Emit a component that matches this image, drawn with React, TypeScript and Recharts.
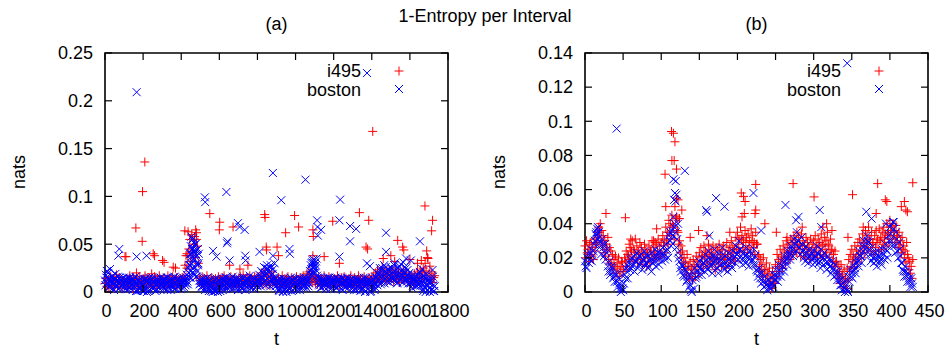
import React from 'react';
import { ScatterChart, Scatter, XAxis, YAxis, ReferenceArea } from 'recharts';

// ---------- data (band values in 10^-3 nats) ----------
const MILLI = 0.001;
const A_STEP = 5; // t spacing of band samples in panel (a)
const B_STEP = 2; // t spacing of band samples in panel (b)

const aTicksX = [0, 200, 400, 600, 800, 1000, 1200, 1400, 1600, 1800];
const aTicksY = [0, 0.05, 0.1, 0.15, 0.2, 0.25];
const bTicksX = [0, 50, 100, 150, 200, 250, 300, 350, 400, 450];
const bTicksY = [0, 0.02, 0.04, 0.06, 0.08, 0.1, 0.12, 0.14];

const seriesNames = ['i495', 'boston'];
const panelTitles = ['(a)', '(b)'];
const mainTitle = '1-Entropy per Interval';

// panel (a) — i495, t = 0, 5, ..., 1730
const aI495Band = [
  9, 14, 6, 12, 4, 10, 16, 7, 11, 13, 5, 12, 18, 6, 10, 15, 8, 13, 4, 11,
  10, 37, 7, 14, 5, 12, 17, 8, 11, 4, 15, 9, 13, 20, 6, 10, 16, 7, 12, 9,
  14, 8, 17, 5, 11, 15, 9, 13, 6, 19, 10, 7, 16, 12, 4, 14, 9, 17, 8, 11,
  13, 7, 15, 10, 5, 12, 17, 9, 14, 6, 11, 16, 8, 13, 10, 15, 7, 12, 10, 14,
  9, 15, 11, 17, 28, 13, 25, 38, 45, 55, 32, 60, 42, 50, 58, 36, 62, 48, 30, 14,
  12, 8, 16, 9, 14, 6, 11, 17, 8, 13, 10, 7, 15, 9, 12, 5, 14, 8, 11, 16,
  9, 13, 6, 15, 10, 17, 8, 12, 14, 7, 11, 9, 16, 8, 13, 6, 15, 10, 8, 12,
  14, 9, 16, 7, 12, 18, 8, 13, 10, 15, 8, 11, 17, 9, 14, 6, 12, 16, 9, 13,
  10, 15, 8, 14, 20, 9, 17, 12, 23, 8, 16, 11, 19, 7, 14, 21, 10, 15, 13, 9,
  12, 8, 15, 10, 6, 13, 17, 9, 11, 7, 14, 10, 16, 8, 12, 5, 15, 10, 13, 9,
  11, 16, 8, 13, 9, 15, 7, 12, 17, 9, 14, 10, 19, 13, 21, 15, 11, 18, 10, 14,
  16, 10, 13, 8, 15, 11, 9, 14, 7, 12, 17, 10, 13, 6, 11, 16, 9, 14, 10, 12,
  10, 14, 8, 13, 17, 10, 7, 12, 15, 9, 11, 16, 8, 13, 10, 6, 14, 11, 17, 9,
  12, 8, 15, 10, 7, 13, 17, 9, 11, 6, 14, 9, 16, 12, 8, 13, 10, 15, 9, 11,
  14, 10, 17, 12, 20, 10, 23, 15, 13, 19, 11, 25, 16, 21, 14, 18, 12, 23, 17, 13,
  20, 15, 22, 11, 18, 24, 13, 17, 21, 10, 16, 19, 14, 23, 12, 17, 20, 15, 11, 18,
  14, 10, 17, 13, 8, 19, 12, 15, 21, 11, 16, 23, 14, 20, 25, 17, 30, 22, 13, 35,
  19, 27, 13, 21, 10, 15, 17,
];

// panel (a) — boston, t = 0, 5, ..., 1730
const aBostonBand = [
  12, 18, 22, 9, 14, 6, 11, 16, 4, 13, 8, 19, 7, 12, 3, 15, 10, 6, 14, 9,
  5, 12, 8, 15, 3, 10, 14, 7, 11, 2, 13, 6, 16, 9, 1, 12, 5, 10, 2, 8,
  11, 1, 14, 6, 0, 13, 9, 2, 12, 7, 15, 4, 10, 1, 8, 13, 5, 11, 3, 9,
  12, 6, 14, 3, 10, 8, 15, 5, 11, 2, 13, 7, 9, 16, 4, 12, 6, 10, 14, 3,
  11, 7, 15, 5, 13, 9, 18, 8, 20, 35, 48, 30, 55, 42, 26, 50, 38, 22, 30, 12,
  9, 4, 13, 7, 11, 2, 14, 6, 10, 1, 12, 5, 8, 0, 11, 3, 9, 14, 2, 7,
  12, 1, 10, 5, 14, 8, 11, 3, 15, 7, 10, 13, 6, 9, 16, 4, 11, 8, 13, 5,
  10, 14, 6, 12, 3, 9, 15, 7, 11, 5, 13, 8, 17, 4, 10, 12, 6, 14, 9, 11,
  7, 13, 18, 10, 22, 15, 9, 26, 12, 20, 8, 24, 16, 11, 28, 14, 19, 9, 13, 6,
  12, 4, 10, 1, 14, 6, 9, 0, 11, 3, 13, 7, 2, 10, 5, 15, 1, 8, 12, 4,
  9, 2, 13, 6, 11, 14, 5, 10, 8, 15, 7, 12, 4, 11, 9, 22, 28, 18, 33, 25,
  30, 20, 35, 15, 11, 7, 13, 5, 10, 14, 8, 12, 3, 9, 15, 6, 11, 13, 4, 10,
  12, 7, 15, 5, 10, 13, 8, 11, 3, 14, 9, 6, 12, 10, 15, 4, 11, 8, 13, 7,
  10, 5, 14, 8, 2, 12, 6, 11, 1, 9, 13, 4, 10, 0, 15, 7, 3, 12, 8, 1,
  11, 4, 13, 2, 9, 15, 7, 18, 12, 22, 10, 25, 16, 28, 14, 20, 11, 24, 18, 13,
  26, 15, 21, 12, 30, 17, 23, 10, 19, 27, 14, 22, 16, 31, 12, 20, 25, 11, 18, 15,
  13, 9, 16, 7, 12, 14, 6, 11, 18, 8, 13, 20, 10, 24, 1, 15, 5, 19, 2, 12,
  14, 0, 9, 3, 16, 1, 6,
];

// panel (a) — boston, t = 2.5, 7.5, ..., 1727.5
const aBostonBandMid = [
  7, 15, 10, 20, 5, 13, 9, 17, 11, 2, 14, 6, 12, 16, 8, 4, 13, 11, 7, 15,
  9, 3, 13, 6, 11, 15, 4, 12, 8, 14, 6, 10, 1, 13, 7, 11, 3, 14, 6, 1,
  8, 13, 3, 10, 12, 1, 15, 6, 9, 13, 3, 11, 8, 14, 2, 10, 12, 6, 15, 7,
  10, 4, 13, 8, 15, 2, 11, 7, 14, 9, 5, 12, 15, 3, 10, 8, 13, 6, 11, 9,
  14, 4, 10, 12, 7, 15, 11, 25, 15, 28, 40, 20, 45, 35, 50, 16, 44, 28, 40, 8,
  12, 6, 10, 14, 4, 11, 8, 15, 3, 13, 7, 1, 10, 4, 13, 1, 6, 11, 0, 12,
  5, 9, 13, 2, 11, 7, 15, 9, 4, 12, 8, 14, 3, 11, 7, 13, 5, 10, 14, 2,
  13, 7, 11, 4, 15, 8, 12, 2, 10, 14, 7, 11, 5, 13, 8, 15, 3, 10, 12, 6,
  12, 9, 15, 6, 13, 20, 11, 17, 7, 25, 14, 10, 21, 6, 18, 12, 24, 15, 8, 11,
  7, 13, 2, 10, 5, 12, 1, 14, 8, 11, 0, 9, 13, 3, 11, 7, 12, 2, 9, 14,
  5, 11, 8, 14, 2, 10, 13, 7, 12, 4, 15, 9, 11, 6, 14, 18, 24, 31, 20, 27,
  24, 32, 17, 12, 8, 15, 4, 11, 13, 6, 10, 14, 7, 12, 9, 15, 3, 10, 7, 13,
  8, 13, 4, 11, 14, 6, 12, 9, 15, 2, 10, 13, 5, 11, 8, 14, 7, 12, 3, 10,
  13, 2, 9, 11, 6, 14, 8, 4, 12, 10, 3, 15, 7, 1, 11, 9, 13, 5, 0, 10,
  7, 13, 9, 16, 4, 20, 11, 14, 25, 8, 18, 13, 21, 9, 26, 15, 12, 22, 10, 17,
  12, 24, 17, 28, 14, 20, 9, 25, 16, 12, 29, 18, 10, 21, 26, 15, 13, 23, 9, 20,
  10, 15, 4, 13, 9, 17, 12, 6, 15, 10, 21, 7, 16, 3, 12, 9, 0, 14, 7, 10,
  4, 11, 2, 13, 7, 1,
];

// panel (a) — isolated points, [t, nats]
const aI495Extra = [
  [162, 0.067], [195, 0.053], [197, 0.105], [209, 0.136], [110, 0.037], [253, 0.04],
  [260, 0.038], [302, 0.033], [310, 0.031], [358, 0.026], [370, 0.025], [419, 0.064],
  [436, 0.063], [425, 0.038], [430, 0.04], [476, 0.065], [470, 0.058], [480, 0.055],
  [550, 0.082], [602, 0.073], [600, 0.065], [654, 0.028], [672, 0.068], [708, 0.024],
  [750, 0.028], [838, 0.081], [840, 0.078], [846, 0.047], [848, 0.044], [903, 0.047],
  [910, 0.038], [948, 0.062], [995, 0.08], [1016, 0.068], [1091, 0.065], [1093, 0.058],
  [1091, 0.038], [1150, 0.037], [1195, 0.074], [1230, 0.03], [1335, 0.083], [1384, 0.075],
  [1405, 0.168], [1370, 0.047], [1378, 0.045], [1536, 0.054], [1562, 0.047], [1568, 0.044],
  [1679, 0.09], [1719, 0.075], [1714, 0.064], [1688, 0.043], [1692, 0.036], [1460, 0.035],
  [1500, 0.038], [1520, 0.032], [1600, 0.034], [1640, 0.03], [1660, 0.033],
];

const aBostonExtra = [
  [166, 0.209], [881, 0.1245], [1052, 0.1175], [925, 0.096], [637, 0.1046], [524, 0.099],
  [526, 0.094], [1234, 0.0966], [1375, 0.229], [1113, 0.075], [1115, 0.068], [1134, 0.065],
  [1117, 0.059], [1230, 0.075], [1286, 0.069], [1318, 0.066], [1286, 0.053], [1475, 0.062],
  [1653, 0.053], [643, 0.053], [640, 0.051], [698, 0.072], [706, 0.068], [733, 0.065],
  [567, 0.043], [585, 0.037], [75, 0.045], [70, 0.038], [26, 0.024], [166, 0.037],
  [218, 0.038], [736, 0.038], [738, 0.033], [811, 0.042], [968, 0.045], [970, 0.04],
  [881, 0.038], [1230, 0.037], [1375, 0.03], [1390, 0.027], [1475, 0.042], [462, 0.056],
  [654, 0.033], [1719, 0.023], [1580, 0.035], [1605, 0.033],
  [443, 0.028], [447, 0.04], [452, 0.022], [457, 0.045], [462, 0.034], [467, 0.052],
  [472, 0.018], [477, 0.04], [482, 0.03], [487, 0.045], [450, 0.015], [470, 0.038],
  [458, 0.025], [465, 0.02], [480, 0.016], [454, 0.058],
  [1085, 0.03], [1095, 0.034], [1105, 0.028], [1090, 0.025],
  [850, 0.028], [870, 0.025], [890, 0.03],
];

// panel (b) — i495, t = 0, 2, ..., 430
const bI495Band = [
  27, 30, 25, 28, 29, 26, 31, 28, 35, 38, 40, 36, 33, 30, 28, 32, 26, 24, 22, 19, 21, 17, 20, 15, 18,
  12, 20, 24, 22, 28, 26, 30, 25, 31, 27, 24, 29, 26, 23, 28, 25, 22, 27, 24, 30, 26, 29, 28, 31, 27,
  29, 33, 30, 38, 35, 42, 40, 45, 38, 50, 44, 35, 30, 27, 24, 20, 17, 22, 15, 18, 14, 19, 16, 21, 18,
  23, 26, 21, 27, 24, 22, 28, 25, 23, 27, 20, 26, 24, 28, 22, 25, 27, 21, 29, 24, 26, 30, 27, 25, 32,
  35, 31, 38, 33, 30, 36, 32, 34, 30, 37, 33, 29, 35, 28, 22, 19, 16, 20, 13, 17, 11, 14, 8, 12, 6,
  16, 22, 19, 25, 21, 27, 24, 30, 28, 26, 31, 29, 33, 30, 35, 32, 28, 34, 30, 27, 32, 29, 26, 31, 28,
  30, 33, 27, 31, 29, 34, 28, 32, 30, 35, 27, 31, 25, 22, 24, 18, 15, 12, 16, 10, 13, 8, 14, 19, 22,
  25, 21, 27, 24, 29, 31, 27, 34, 30, 36, 33, 38, 31, 35, 29, 33, 36, 31, 37, 32, 35, 38, 34, 40, 36,
  42, 38, 40, 36, 39, 33, 35, 30, 32, 27, 24, 29, 20, 18, 15, 19,
];

// panel (b) — i495, t = 1, 3, ..., 429
const bI495BandOdd = [
  20, 23, 18, 22, 21, 19, 24, 29, 32, 35, 30, 27, 23, 21, 25, 19, 17, 16, 13, 15, 11, 14, 9, 12, 17,
  13, 18, 15, 21, 19, 24, 18, 23, 20, 17, 22, 19, 16, 21, 18, 15, 20, 17, 23, 19, 22, 21, 24, 20, 22,
  22, 27, 23, 31, 28, 35, 33, 39, 31, 43, 36, 28, 23, 20, 17, 13, 10, 15, 8, 11, 7, 13, 9, 15, 11,
  16, 20, 14, 21, 17, 15, 21, 18, 16, 20, 13, 19, 17, 22, 15, 19, 20, 14, 22, 17, 19, 23, 20, 18, 25,
  28, 24, 31, 26, 23, 29, 25, 27, 23, 30, 26, 22, 28, 21, 15, 12, 9, 13, 6, 10, 4, 8, 2, 6, 5,
  9, 15, 12, 18, 14, 20, 17, 23, 21, 19, 24, 22, 26, 23, 28, 25, 21, 27, 23, 20, 25, 22, 19, 24, 21,
  23, 26, 20, 24, 22, 27, 21, 25, 23, 28, 20, 24, 18, 15, 17, 11, 8, 5, 9, 3, 6, 2, 7, 12, 15,
  18, 14, 20, 17, 22, 24, 20, 27, 23, 29, 26, 31, 24, 28, 22, 26, 29, 24, 30, 25, 28, 31, 27, 33, 29,
  35, 31, 33, 29, 32, 26, 28, 23, 25, 20, 17, 22, 13, 11, 8,
];

// panel (b) — boston, t = 0, 2, ..., 430
const bBostonBand = [
  18, 14, 22, 19, 25, 21, 28, 34, 37, 35, 29, 31, 26, 28, 23, 15, 18, 12, 14, 9, 11, 6, 8, 2, 4,
  1, 10, 14, 8, 17, 19, 15, 21, 18, 23, 20, 16, 22, 19, 24, 17, 21, 15, 20, 23, 18, 25, 21, 19, 24,
  22, 26, 21, 28, 25, 33, 30, 36, 44, 40, 26, 23, 18, 12, 15, 9, 13, 7, 10, 4, 0, 11, 14, 9, 16,
  18, 13, 20, 17, 22, 15, 24, 19, 16, 21, 25, 18, 14, 22, 19, 26, 17, 21, 15, 23, 20, 18, 24, 21, 27,
  22, 30, 25, 19, 23, 21, 26, 20, 24, 22, 19, 25, 16, 12, 14, 8, 11, 6, 9, 4, 7, 3, 8, 5, 10,
  13, 9, 16, 12, 18, 15, 21, 19, 24, 22, 27, 25, 31, 28, 35, 30, 26, 32, 24, 22, 27, 20, 25, 23, 19,
  24, 21, 27, 22, 18, 25, 20, 23, 17, 21, 19, 15, 18, 13, 16, 10, 12, 7, 4, 8, 2, 5, 1, 9, 13,
  11, 16, 14, 20, 18, 24, 21, 27, 30, 25, 33, 29, 22, 26, 20, 23, 18, 24, 21, 19, 25, 22, 28, 24, 33,
  38, 30, 41, 27, 35, 24, 29, 21, 17, 12, 15, 9, 11, 6, 8, 3,
];

// panel (b) — boston, t = 1, 3, ..., 429
const bBostonBandOdd = [
  15, 20, 17, 23, 18, 24, 30, 33, 31, 26, 22, 28, 21, 19, 25, 12, 10, 15, 8, 6, 10, 3, 5, 0, 2,
  5, 8, 12, 15, 13, 20, 16, 12, 18, 14, 21, 17, 13, 19, 16, 22, 14, 18, 12, 17, 20, 15, 23, 16, 20,
  18, 23, 19, 24, 20, 30, 27, 33, 38, 35, 31, 20, 14, 16, 10, 13, 6, 9, 3, 1, 7, 2, 8, 12, 10,
  14, 10, 17, 12, 19, 13, 20, 15, 11, 18, 21, 14, 11, 18, 16, 22, 13, 17, 12, 19, 16, 14, 20, 17, 22,
  19, 25, 21, 16, 19, 17, 22, 15, 20, 18, 16, 21, 13, 9, 11, 5, 8, 3, 6, 1, 4, 2, 5, 3, 7,
  10, 6, 13, 9, 15, 12, 18, 16, 21, 19, 24, 21, 28, 24, 30, 26, 22, 28, 20, 18, 23, 17, 21, 19, 16,
  20, 18, 23, 17, 14, 21, 16, 19, 13, 17, 15, 11, 14, 9, 12, 7, 9, 4, 1, 5, 0, 2, 0, 6, 9,
  8, 13, 11, 17, 15, 21, 17, 24, 27, 22, 30, 25, 18, 23, 17, 20, 15, 21, 18, 16, 22, 19, 25, 20, 30,
  34, 27, 37, 23, 31, 20, 25, 17, 13, 9, 12, 6, 8, 3, 5,
];

const bI495Extra = [
  [27.5, 0.046], [53, 0.0435], [94, 0.037], [105, 0.069], [106, 0.05], [113.5, 0.094],
  [116, 0.093], [118, 0.088], [114, 0.077], [117, 0.077], [120, 0.072], [120, 0.055],
  [122, 0.054], [127, 0.048], [124, 0.043], [122, 0.043], [138, 0.032], [149, 0.036],
  [205, 0.058], [208, 0.056], [210, 0.053], [209, 0.046], [206, 0.044], [224, 0.063],
  [224, 0.048], [223, 0.046], [236, 0.04], [247, 0.005], [251, 0.035], [273, 0.0635],
  [300.5, 0.0557], [317, 0.04], [345, 0.032], [351, 0.057], [382, 0.046], [384, 0.0635],
  [394, 0.054], [396, 0.053], [415, 0.05], [419, 0.053], [421, 0.048], [423, 0.047],
  [430, 0.064], [60, 0.031], [90, 0.03], [160, 0.033], [190, 0.035], [265, 0.032],
  [285, 0.038], [312, 0.038], [324, 0.036], [365, 0.038],
];

const bBostonExtra = [
  [41.5, 0.0957], [116, 0.066], [118, 0.058], [117, 0.054], [119, 0.065], [120, 0.057],
  [119, 0.053], [131, 0.071], [122, 0.04], [159, 0.048], [160, 0.047], [172, 0.055],
  [183, 0.05], [163, 0.033], [221, 0.058], [231, 0.036], [263, 0.051], [277, 0.042],
  [280, 0.044], [308, 0.048], [310, 0.038], [344, 0.134], [369, 0.047], [376, 0.043],
  [395, 0.04], [405, 0.041], [15, 0.035], [17, 0.038], [112, 0.035],
];

// ---------- helpers ----------
type Pt = { t: number; v: number };
const band = (vals: number[], start: number, step: number): Pt[] =>
  vals.map((m, i) => ({ t: start + i * step, v: m * MILLI }));
const extra = (pairs: number[][]): Pt[] => pairs.map(([t, v]) => ({ t, v }));

const RED = '#ff0000';
const BLUE = '#0000ff';
const FONT = '"Liberation Sans", Arial, Helvetica, sans-serif';
const FS = 18;

const PLOT_W = 343;
const PLOT_H = 239;
const TICK_LEN = 7;

const PlusShape = (props: any) => {
  const { cx, cy } = props;
  if (cx == null || cy == null) return null;
  return (
    <path d={`M${cx - 4.5},${cy}h9M${cx},${cy - 4.5}v9`} stroke={RED} strokeWidth={1} fill="none" />
  );
};

const CrossShape = (props: any) => {
  const { cx, cy } = props;
  if (cx == null || cy == null) return null;
  return (
    <path
      d={`M${cx - 4},${cy - 4}l8,8M${cx - 4},${cy + 4}l8,-8`}
      stroke={BLUE}
      strokeWidth={1}
      fill="none"
    />
  );
};

const fmt = (v: number) => String(Number(v.toFixed(3)));

const XTick = (props: any) => {
  const { x, y, payload } = props;
  return (
    <g>
      <line x1={x} y1={y} x2={x} y2={y - TICK_LEN} stroke="#000" strokeWidth={1.2} />
      <line x1={x} y1={y - PLOT_H} x2={x} y2={y - PLOT_H + TICK_LEN} stroke="#000" strokeWidth={1.2} />
      <text x={x + 1.5} y={y + 24.5} textAnchor="middle" fontFamily={FONT} fontSize={FS} fill="#000">
        {fmt(payload.value)}
      </text>
    </g>
  );
};

const YTick = (props: any) => {
  const { x, y, payload } = props;
  return (
    <g>
      <line x1={x} y1={y} x2={x + TICK_LEN} y2={y} stroke="#000" strokeWidth={1.2} />
      <line x1={x + PLOT_W} y1={y} x2={x + PLOT_W - TICK_LEN} y2={y} stroke="#000" strokeWidth={1.2} />
      <text x={x - 12} y={y + 6.3} textAnchor="end" fontFamily={FONT} fontSize={FS} fill="#000">
        {fmt(payload.value)}
      </text>
    </g>
  );
};

type PanelProps = {
  left: number;
  red: Pt[];
  blue: Pt[];
  ticksX: number[];
  ticksY: number[];
};

const Panel = ({ left, red, blue, ticksX, ticksY }: PanelProps) => {
  const xMax = ticksX[ticksX.length - 1];
  const yMax = ticksY[ticksY.length - 1];
  return (
    <div style={{ position: 'absolute', left, top: 0, width: 480, height: 349 }}>
      <ScatterChart width={480} height={349} margin={{ top: 53, right: 32, bottom: 0, left: 0 }}>
        <XAxis
          type="number"
          dataKey="t"
          domain={[0, xMax]}
          ticks={ticksX}
          interval={0}
          height={57}
          tickSize={0}
          tickMargin={0}
          axisLine={false}
          tickLine={false}
          tick={<XTick />}
        />
        <YAxis
          type="number"
          dataKey="v"
          domain={[0, yMax]}
          ticks={ticksY}
          interval={0}
          width={105}
          tickSize={0}
          tickMargin={0}
          axisLine={false}
          tickLine={false}
          tick={<YTick />}
        />
        <Scatter data={red} shape={<PlusShape />} isAnimationActive={false} />
        <Scatter data={blue} shape={<CrossShape />} isAnimationActive={false} />
        <ReferenceArea
          x1={0}
          x2={xMax}
          y1={0}
          y2={yMax}
          fill="none"
          fillOpacity={0}
          stroke="#000"
          strokeWidth={1.6}
          ifOverflow="visible"
        />
      </ScatterChart>
    </div>
  );
};

const Overlay = () => {
  const txt = { fontFamily: FONT, fontSize: FS, fill: '#000' } as const;
  const legend = (dx: number) => (
    <g key={dx}>
      <text x={dx + 361} y={76.5} textAnchor="end" {...txt}>{seriesNames[0]}</text>
      <text x={dx + 361} y={95.5} textAnchor="end" {...txt}>{seriesNames[1]}</text>
      <path d={`M${dx + 394.5},71h9M${dx + 399},66.5v9`} stroke={RED} strokeWidth={1} fill="none" />
      <path d={`M${dx + 395},85l8,8M${dx + 395},93l8,-8`} stroke={BLUE} strokeWidth={1} fill="none" />
    </g>
  );
  return (
    <svg width={947} height={349} style={{ position: 'absolute', left: 0, top: 0, pointerEvents: 'none' }}>
      <text x={485} y={22} textAnchor="middle" {...txt}>{mainTitle}</text>
      <text x={276.5} y={30} textAnchor="middle" {...txt}>{panelTitles[0]}</text>
      <text x={756.5} y={30} textAnchor="middle" {...txt}>{panelTitles[1]}</text>
      <text x={276.5} y={345} textAnchor="middle" {...txt}>t</text>
      <text x={756.5} y={345} textAnchor="middle" {...txt}>t</text>
      <text x={25} y={172} textAnchor="middle" transform="rotate(-90 25 172)" {...txt}>nats</text>
      <text x={505} y={172} textAnchor="middle" transform="rotate(-90 505 172)" {...txt}>nats</text>
      {legend(0)}
      {legend(480)}
    </svg>
  );
};

export default function App() {
  const aRed = [...band(aI495Band, 0, A_STEP), ...extra(aI495Extra)];
  const aBlue = [
    ...band(aBostonBand, 0, A_STEP),
    ...band(aBostonBandMid, A_STEP / 2, A_STEP),
    ...extra(aBostonExtra),
  ];
  const bRed = [
    ...band(bI495Band, 0, B_STEP),
    ...band(bI495BandOdd, B_STEP / 2, B_STEP),
    ...extra(bI495Extra),
  ];
  const bBlue = [
    ...band(bBostonBand, 0, B_STEP),
    ...band(bBostonBandOdd, B_STEP / 2, B_STEP),
    ...extra(bBostonExtra),
  ];
  return (
    <div style={{ position: 'absolute', left: 0, top: 0, width: 947, height: 349, background: '#fff' }}>
      <Panel left={0} red={aRed} blue={aBlue} ticksX={aTicksX} ticksY={aTicksY} />
      <Panel left={480} red={bRed} blue={bBlue} ticksX={bTicksX} ticksY={bTicksY} />
      <Overlay />
    </div>
  );
}
